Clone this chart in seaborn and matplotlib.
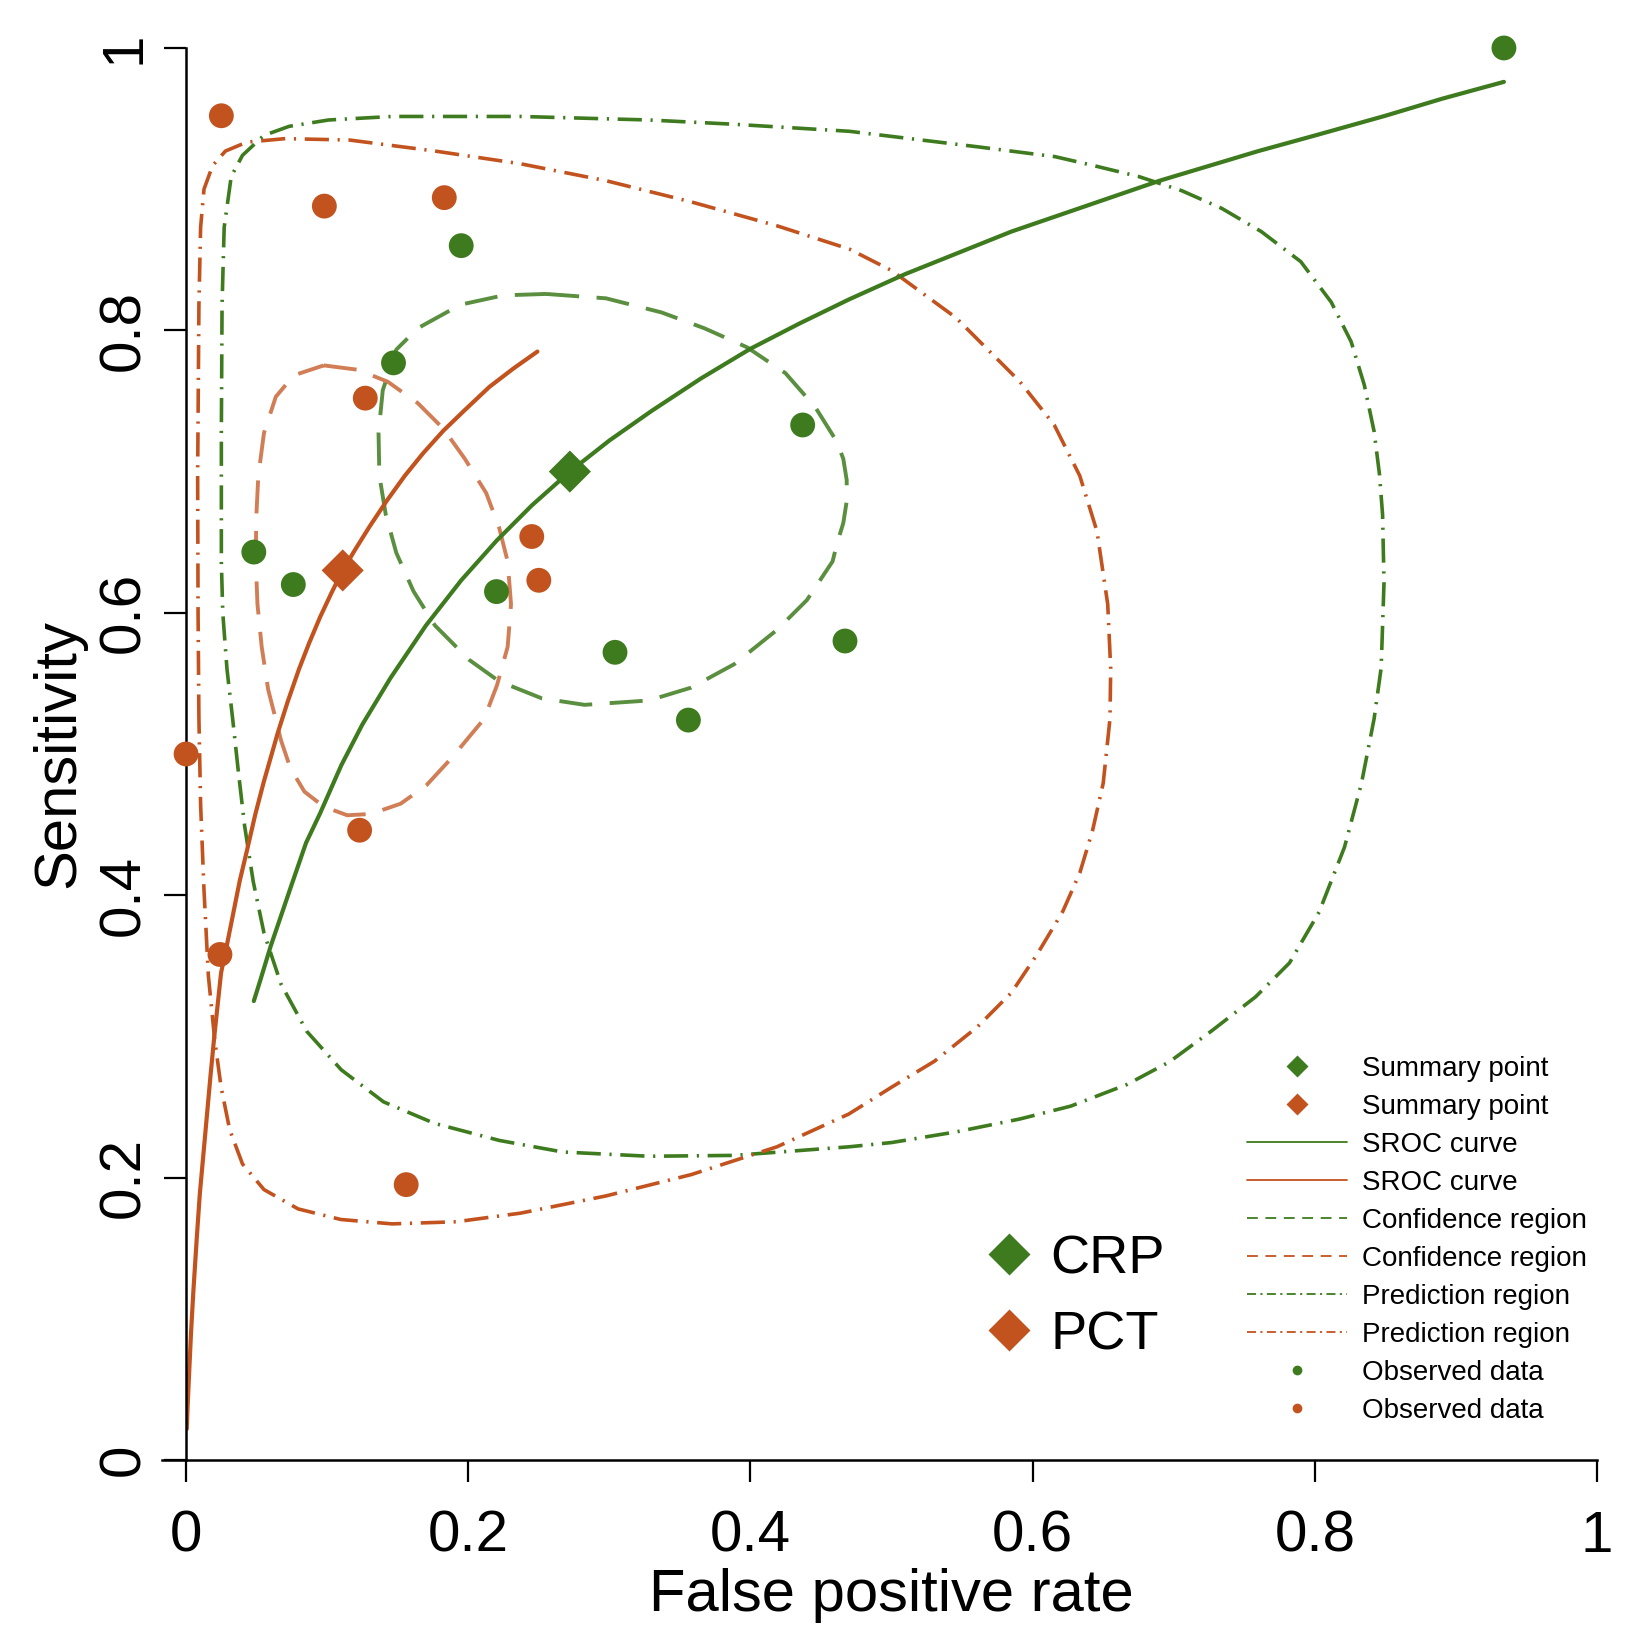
import numpy as np
import pandas as pd
import seaborn as sns
import matplotlib.pyplot as plt
from matplotlib.lines import Line2D

GREEN = "#3e7b1e"
ORANGE = "#c2531f"

# observed studies: false positive rate / sensitivity
crp_fpr = [0.934, 0.195, 0.147, 0.048, 0.076, 0.220, 0.304, 0.356, 0.437, 0.467]
crp_sens = [1.000, 0.860, 0.777, 0.643, 0.620, 0.615, 0.572, 0.524, 0.733, 0.580]
pct_fpr = [0.025, 0.098, 0.183, 0.127, 0.245, 0.250, 0.000, 0.123, 0.024, 0.156]
pct_sens = [0.952, 0.888, 0.894, 0.752, 0.654, 0.623, 0.500, 0.446, 0.358, 0.195]

# summary points
sum_fpr = [0.272, 0.111]
sum_sens = [0.700, 0.630]

# SROC curves
crp_sroc_fpr = [0.048, 0.053, 0.060, 0.075, 0.085, 0.095, 0.110, 0.125, 0.145, 0.170,
                0.195, 0.220, 0.245, 0.272, 0.300, 0.330, 0.365, 0.400, 0.435, 0.470,
                0.510, 0.550, 0.585, 0.620, 0.655, 0.690, 0.720, 0.760, 0.800, 0.850,
                0.890, 0.934]
crp_sroc_sens = [0.325, 0.341, 0.364, 0.408, 0.437, 0.458, 0.492, 0.521, 0.554, 0.591,
                 0.623, 0.651, 0.676, 0.700, 0.722, 0.743, 0.766, 0.787, 0.805, 0.822,
                 0.840, 0.856, 0.870, 0.882, 0.894, 0.906, 0.915, 0.927, 0.938, 0.952,
                 0.964, 0.976]
pct_sroc_fpr = [0.0005, 0.001, 0.0021, 0.0035, 0.0052, 0.0075, 0.0097, 0.0135, 0.0173,
                0.020, 0.0248, 0.029, 0.033, 0.038, 0.043, 0.049, 0.055, 0.065, 0.072,
                0.080, 0.087, 0.095, 0.103, 0.111, 0.120, 0.130, 0.142, 0.155, 0.168,
                0.1824, 0.198, 0.215, 0.232, 0.249]
pct_sroc_sens = [0.022, 0.036, 0.060, 0.090, 0.120, 0.156, 0.188, 0.230, 0.272,
                 0.300, 0.345, 0.365, 0.385, 0.410, 0.431, 0.457, 0.480, 0.515, 0.537,
                 0.560, 0.578, 0.597, 0.614, 0.630, 0.645, 0.661, 0.679, 0.697, 0.713,
                 0.729, 0.744, 0.760, 0.773, 0.785]

# confidence regions
crp_conf_fpr = [0.2552, 0.2976, 0.337, 0.3673, 0.3976, 0.4248, 0.446, 0.4612, 0.4658,
                0.4682, 0.4682, 0.4658, 0.4612, 0.4582, 0.440, 0.4188, 0.3885, 0.358,
                0.328, 0.2824, 0.2521, 0.2218, 0.2006, 0.1764, 0.1612, 0.149, 0.1415,
                0.137, 0.1364, 0.1394, 0.149, 0.1642, 0.1945, 0.2248]
crp_conf_sens = [0.8258, 0.8227, 0.8127, 0.8015, 0.788, 0.7697, 0.7455, 0.7212, 0.709,
                 0.694, 0.679, 0.6636, 0.6485, 0.6364, 0.609, 0.5879, 0.5636, 0.547,
                 0.5379, 0.5348, 0.5394, 0.5515, 0.5667, 0.591, 0.6152, 0.6424, 0.6697,
                 0.697, 0.7273, 0.7576, 0.7864, 0.8015, 0.8182, 0.8248]
pct_conf_fpr = [0.0976, 0.1218, 0.143, 0.1642, 0.1824, 0.1976, 0.2127, 0.2218, 0.2279,
                0.2303, 0.2279, 0.2203, 0.2112, 0.2036, 0.1885, 0.1703, 0.1521, 0.1309,
                0.1142, 0.0976, 0.0839, 0.0739, 0.0673, 0.0635, 0.0582, 0.0536, 0.0506,
                0.0494, 0.0497, 0.0512, 0.0552, 0.0636, 0.0764]
pct_conf_sens = [0.7752, 0.7721, 0.7636, 0.7485, 0.7303, 0.709, 0.6848, 0.6606, 0.6364,
                 0.606, 0.5758, 0.5485, 0.5248, 0.5157, 0.4975, 0.4778, 0.4648, 0.4575,
                 0.4566, 0.4627, 0.4733, 0.49, 0.5096, 0.5248, 0.5455, 0.5758, 0.606,
                 0.6364, 0.6667, 0.697, 0.7273, 0.753, 0.7682]

# prediction regions
crp_pred_fpr = [0.037, 0.033, 0.029, 0.026, 0.025, 0.025, 0.0255, 0.027, 0.032, 0.040,
                0.055, 0.073, 0.101, 0.146, 0.237, 0.328, 0.388, 0.470, 0.561, 0.616,
                0.642, 0.675, 0.7055, 0.734, 0.762, 0.790, 0.8116, 0.8257, 0.835, 0.842,
                0.8458, 0.848, 0.849, 0.847, 0.842, 0.833, 0.821, 0.803, 0.782, 0.758,
                0.727, 0.697, 0.667, 0.627, 0.591, 0.546, 0.500, 0.470, 0.3885, 0.328,
                0.267, 0.222, 0.176, 0.140, 0.110, 0.0855, 0.0673, 0.0552, 0.0476, 0.0415]
crp_pred_sens = [0.488, 0.525, 0.560, 0.600, 0.636, 0.727, 0.818, 0.873, 0.909, 0.924,
                 0.938, 0.9445, 0.949, 0.9515, 0.9515, 0.949, 0.946, 0.941, 0.930, 0.923,
                 0.917, 0.909, 0.899, 0.8864, 0.870, 0.8487, 0.820, 0.792, 0.7615, 0.7284,
                 0.698, 0.6695, 0.621, 0.561, 0.525, 0.479, 0.434, 0.388, 0.352, 0.328,
                 0.304, 0.282, 0.266, 0.2506, 0.2415, 0.2324, 0.2248, 0.2218, 0.2157,
                 0.2151, 0.2181, 0.2263, 0.2384, 0.2536, 0.2763, 0.3036, 0.337, 0.3733,
                 0.4096, 0.449]
pct_pred_fpr = [0.0091, 0.0085, 0.0082, 0.0091, 0.0103, 0.0127, 0.0188, 0.0279, 0.043,
                0.0703, 0.1158, 0.1764, 0.237, 0.2976, 0.358, 0.419, 0.470, 0.500, 0.5456,
                0.591, 0.6153, 0.6334, 0.6456, 0.6532, 0.6553, 0.6548, 0.650, 0.6425,
                0.6334, 0.6213, 0.6031, 0.585, 0.5607, 0.5304, 0.500, 0.4697, 0.4188,
                0.358, 0.2976, 0.237, 0.1915, 0.146, 0.1097, 0.0794, 0.0552, 0.040,
                0.0309, 0.0248, 0.0203, 0.0158, 0.0127, 0.0103]
pct_pred_sens = [0.525, 0.600, 0.697, 0.818, 0.873, 0.900, 0.9167, 0.927, 0.9333,
                 0.9358, 0.9348, 0.927, 0.918, 0.906, 0.891, 0.874, 0.8576, 0.8424, 0.809,
                 0.7636, 0.733, 0.697, 0.6576, 0.606, 0.5606, 0.525, 0.4793, 0.446,
                 0.4157, 0.3884, 0.358, 0.331, 0.3066, 0.2824, 0.264, 0.245, 0.2218,
                 0.2021, 0.187, 0.1748, 0.1687, 0.1672, 0.1703, 0.1778, 0.1915, 0.2096,
                 0.2339, 0.2642, 0.2975, 0.343, 0.4036, 0.4642]

tick_vals = [0, 0.2, 0.4, 0.6, 0.8, 1]
tick_labels = ["0", "0.2", "0.4", "0.6", "0.8", "1"]


def curve(xs, ys, close=False):
    xs, ys = list(xs), list(ys)
    if close:
        xs, ys = xs + xs[:1], ys + ys[:1]
    return pd.DataFrame({"fpr": xs, "sens": ys})


sns.set_style("white")
plt.rcParams["font.family"] = ["Liberation Sans", "DejaVu Sans"]
plt.rcParams.update({"text.color": "black", "axes.labelcolor": "black",
                     "xtick.color": "black", "ytick.color": "black"})

fig = plt.figure(figsize=(16.38, 16.43), dpi=100)
ax = fig.add_axes([0.1136, 0.1114, 0.8614, 0.8594])

line_kw = dict(x="fpr", y="sens", sort=False, estimator=None, ax=ax, legend=False,
               solid_joinstyle="round", dash_joinstyle="round")
DASH = (0, (8.5, 4.5))
DOTDASH = (0, (6.7, 2.4, 0.6, 2.4))

sns.lineplot(data=curve(crp_pred_fpr, crp_pred_sens, True), color=GREEN, lw=2.6,
             linestyle=DOTDASH, **line_kw)
sns.lineplot(data=curve(pct_pred_fpr, pct_pred_sens, True), color=ORANGE, lw=2.6,
             linestyle=DOTDASH, **line_kw)
sns.lineplot(data=curve(crp_conf_fpr, crp_conf_sens, True), color=GREEN, lw=2.8,
             linestyle=DASH, alpha=0.85, **line_kw)
sns.lineplot(data=curve(pct_conf_fpr, pct_conf_sens, True), color=ORANGE, lw=2.8,
             linestyle=DASH, alpha=0.75, **line_kw)
sns.lineplot(data=curve(crp_sroc_fpr, crp_sroc_sens), color=GREEN, lw=3.0, **line_kw)
sns.lineplot(data=curve(pct_sroc_fpr, pct_sroc_sens), color=ORANGE, lw=3.0, **line_kw)

sns.scatterplot(x=crp_fpr, y=crp_sens, color=GREEN, s=320, edgecolor="none",
                clip_on=False, zorder=4, ax=ax)
sns.scatterplot(x=pct_fpr, y=pct_sens, color=ORANGE, s=320, edgecolor="none",
                clip_on=False, zorder=4, ax=ax)
sns.scatterplot(x=sum_fpr, y=sum_sens, hue=["CRP", "PCT"], palette=[GREEN, ORANGE],
                marker="D", s=460, edgecolor="none", zorder=5, legend=False, ax=ax)

ax.set_xlim(0, 1)
ax.set_ylim(0, 1)
ax.set_xticks(tick_vals)
ax.set_xticklabels(tick_labels)
ax.set_yticks(tick_vals)
ax.set_yticklabels(tick_labels, rotation=90, va="center")
ax.tick_params(axis="both", direction="out", length=15.8, width=1.6, colors="black",
               labelsize=42, bottom=True, left=True)
ax.tick_params(axis="x", pad=20)
ax.tick_params(axis="y", pad=9)
for side in ["top", "right"]:
    ax.spines[side].set_visible(False)
for side in ["left", "bottom"]:
    ax.spines[side].set_color("black")
    ax.spines[side].set_linewidth(1.8)
ax.spines["bottom"].set_bounds(-0.017, 1)

ax.set_xlabel("False positive rate", fontsize=43)
ax.set_ylabel("Sensitivity", fontsize=43)
ax.xaxis.set_label_coords(0.5, -0.0765)
ax.yaxis.set_label_coords(-0.0705, 0.5)

# key legend (R-style, no frame)
key_handles = [
    Line2D([], [], ls="none", marker="D", ms=11, color=GREEN, mec="none"),
    Line2D([], [], ls="none", marker="D", ms=11, color=ORANGE, mec="none"),
    Line2D([], [], color=GREEN, lw=1.3),
    Line2D([], [], color=ORANGE, lw=1.3),
    Line2D([], [], color=GREEN, lw=1.3, ls=(0, (6.0, 4.2))),
    Line2D([], [], color=ORANGE, lw=1.3, ls=(0, (6.0, 4.2))),
    Line2D([], [], color=GREEN, lw=1.3, ls=(0, (5.0, 2.4, 1.2, 2.4))),
    Line2D([], [], color=ORANGE, lw=1.3, ls=(0, (5.0, 2.4, 1.2, 2.4))),
    Line2D([], [], ls="none", marker="o", ms=7, color=GREEN, mec="none"),
    Line2D([], [], ls="none", marker="o", ms=7, color=ORANGE, mec="none"),
]
key_labels = ["Summary point", "Summary point", "SROC curve", "SROC curve",
              "Confidence region", "Confidence region", "Prediction region",
              "Prediction region", "Observed data", "Observed data"]
leg1 = ax.legend(key_handles, key_labels, loc="upper left", bbox_to_anchor=(0.752, 0.286),
                 frameon=False, fontsize=20, handlelength=3.6, handletextpad=0.55,
                 labelspacing=0.43, borderpad=0, borderaxespad=0, numpoints=1)
ax.add_artist(leg1)

test_handles = [
    Line2D([], [], ls="none", marker="D", ms=21, color=GREEN, mec="none"),
    Line2D([], [], ls="none", marker="D", ms=21, color=ORANGE, mec="none"),
]
ax.legend(test_handles, ["CRP", "PCT"], loc="upper left", bbox_to_anchor=(0.564, 0.16),
          frameon=False, fontsize=39, handlelength=1.0, handletextpad=0.27,
          labelspacing=0.48, borderpad=0, borderaxespad=0, numpoints=1)

fig.savefig("out.png", dpi=100, facecolor="white")
